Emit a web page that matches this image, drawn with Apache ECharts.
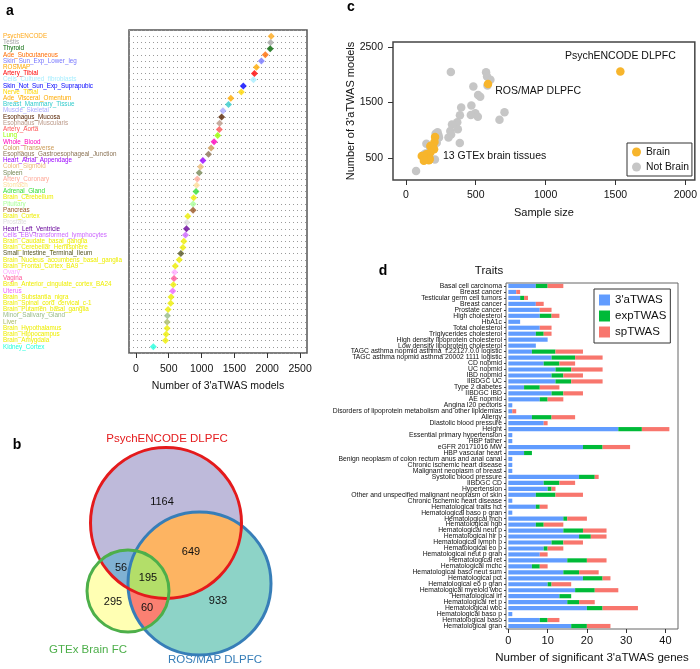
<!DOCTYPE html>
<html><head><meta charset="utf-8">
<script src="https://cdn.jsdelivr.net/npm/echarts@6/dist/echarts.min.js"></script>
<style>html,body{margin:0;padding:0;background:#fff}#c{width:700px;height:669px}</style>
</head><body><div id="c"></div>
<script>
// ---------- Panel a data ----------
const tissues = ["PsychENCODE","Testis","Thyroid","Ade_Subcutaneous","Skin_Sun_Exp_Lower_leg","ROSMAP","Artery_Tibial","Cells_Cultured_fibroblasts","Skin_Not_Sun_Exp_Suprapubic","Nerve_Tibial","Ade_Visceral_Omentum","Breast_Mammary_Tissue","Muscle_Skeletal","Esophagus_Mucosa","Esophagus_Muscularis","Artery_Aorta","Lung","Whole_Blood","Colon_Transverse","Esophagus_Gastroesophageal_Junction","Heart_Atrial_Appendage","Colon_Sigmoid","Spleen","Artery_Coronary","Stomach","Adrenal_Gland","Brain_Cerebellum","Pituitary","Pancreas","Brain_Cortex","Prostate","Heart_Left_Ventricle","Cells_EBV-transformed_lymphocytes","Brain_Caudate_basal_ganglia","Brain_Cerebellar_Hemisphere","Small_Intestine_Terminal_Ileum","Brain_Nucleus_accumbens_basal_ganglia","Brain_Frontal_Cortex_BA9","Ovary","Vagina","Brain_Anterior_cingulate_cortex_BA24","Uterus","Brain_Substantia_nigra","Brain_Spinal_cord_cervical_c-1","Brain_Putamen_basal_ganglia","Minor_Salivary_Gland","Liver","Brain_Hypothalamus","Brain_Hippocampus","Brain_Amygdala","Kidney_Cortex"];
const tissueModels = [2060,2050,2045,1970,1910,1835,1805,1790,1635,1605,1445,1410,1325,1305,1275,1270,1245,1190,1145,1105,1020,985,965,935,925,915,880,870,870,790,775,770,755,730,715,685,660,600,590,580,570,560,535,530,490,480,475,475,460,450,265];
const tissueColors = ["#FFA91A","#A6A6A6","#006400","#FF6A00","#7777FF","#FFAA00","#FF0000","#A8EEFF","#0000FF","#FFD700","#FFAA00","#33CCCC","#AAAAFF","#552200","#BB9988","#FF5555","#99FF00","#FF00BB","#CC9955","#8B7355","#9900FF","#EEBB77","#778855","#FFAA99","#FFDD99","#33DD33","#EEEE00","#AAFF99","#995522","#EEEE00","#DDDDDD","#660099","#CC66FF","#EEEE00","#EEEE00","#555522","#EEEE00","#EEEE00","#FFAAFF","#FF5599","#EEEE00","#EE66FF","#EEEE00","#EEEE00","#EEEE00","#99BB88","#AABB66","#EEEE00","#EEEE00","#EEEE00","#22FFDD"];
const aTicks = [0,500,1000,1500,2000,2500];

// ---------- Panel b data ----------
const vennSets = ["PsychENCODE DLPFC","ROS/MAP DLPFC","GTEx Brain FC"];
const vennRegions = ["A","AB","B","AC","ABC","C","BC"];
const vennCounts = [1164,649,933,56,195,295,60];

// ---------- Panel c data ----------
const brainSampleSize = [1535,588,209,205,194,175,202,175,147,114,126,170,170,165,129];
const brainModels = [2060,1835,880,790,730,715,660,600,570,535,530,490,475,460,450];
const otherSampleSize = [322,574,581,605,584,483,517,532,469,396,706,497,465,387,515,670,368,330,372,318,227,213,324,233,237,305,221,386,147,174,167,141,129,144,208,73];
const otherModels = [2050,2045,1970,1910,1805,1790,1635,1605,1445,1410,1325,1305,1275,1270,1245,1190,1145,1105,1020,985,965,935,925,915,870,870,775,770,755,685,590,580,560,480,475,265];
const cXTicks = [0,500,1000,1500,2000];
const cYTicks = [500,1500,2500];

// ---------- Panel d data ----------
const traits = ["Basal cell carcinoma","Breast cancer","Testicular germ cell tumors","Breast cancer","Prostate cancer","High cholesterol","HbA1c","Total cholesterol","Triglycerides cholesterol","High density lipoprotein cholesterol","Low density lipoprotein cholesterol","TAGC asthma nopmid asthma_f.22127.0.0 logistic","TAGC asthma nopmid asthma 20002 1111 logistic","CD nopmid","UC nopmid","IBD nopmid","IIBDGC UC","Type 2 diabetes","IIBDGC IBD","AE nopmid","Angina I20 pectoris","Disorders of lipoprotein metabolism and other lipidemias","Allergy","Diastolic blood pressure","Height","Essential primary hypertension","HBP father","eGFR 20171016 MW","HBP vascular heart","Benign neoplasm of colon rectum anus and anal canal","Chronic ischemic heart disease","Malignant neoplasm of breast","Systolic blood pressure","IIBDGC CD","Hypertension","Other and unspecified malignant neoplasm of skin","Chronic ischemic heart disease","Hematological traits hct","Hematological baso p gran","Hematological mch","Hematological hgb","Hematological neut p","Hematological hlr p","Hematological lymph p","Hematological eo p","Hematological neut p gran","Hematological ret","Hematological mchc","Hematological baso neut sum","Hematological pct","Hematological eo p gran","Hematological myeloid wbc","Hematological irf","Hematological ret p","Hematological wbc","Hematological baso p","Hematological baso","Hematological gran"];
const aTWAS   = [7,2,3,7,8,8,3,8,7,10,7,6,11,9,12,11,12,4,11,8,1,1,6,9,28,1,1,19,4,1,1,1,18,9,10,7,1,7,1,14,7,14,18,11,9,8,15,6,14,19,10,17,13,15,20,1,8,16];
const expTWAS = [3,0,1,0,0,3,0,0,2,0,0,6,6,4,4,3,4,4,3,2,0,0,5,0,6,0,0,5,2,0,0,0,4,4,1,5,0,1,0,1,2,5,3,3,1,0,5,2,4,5,1,5,3,3,4,0,2,4];
const spTWAS  = [4,1,1,2,3,2,0,3,2,0,0,7,7,4,8,5,8,5,5,4,0,1,6,1,7,0,0,7,0,0,0,0,1,4,1,7,0,2,0,5,5,6,4,5,4,2,5,2,5,2,5,6,0,4,9,0,3,6];
const dTicks = [0,10,20,30,40];

// ---------- layout / style ----------
const FF = "'Liberation Sans', Arial, Helvetica, sans-serif";
const vennGeom = {
  A: {cx:166, cy:523, r:75.5, stroke:'#E41A1C'},
  B: {cx:199.5, cy:583.5, r:71.5, stroke:'#377EB8'},
  C: {cx:128, cy:591, r:41, stroke:'#4DAF4A'}
};
const vennFill = {A:'#BEBADA', B:'#8DD3C7', AB:'#FDB462', C:'#FFFFB3', AC:'#80B1D3', BC:'#FB8072', ABC:'#B3DE69'};
const vennLabelPos = {A:[162,502], AB:[191,552], B:[218,601], AC:[121,568], ABC:[148,578], C:[113,602], BC:[147,608]};
const vennSetLabelPos = [[167,439,'#E41A1C'],[215,660,'#377EB8'],[88,650,'#4DAF4A']];

function circlePts(c, n) {
  const pts = [];
  for (let k = 0; k < n; k++) { const t = 2*Math.PI*k/n; pts.push([c.cx + c.r*Math.cos(t), c.cy + c.r*Math.sin(t)]); }
  return pts;
}
function clipByCircle(poly, c) {
  const cp = circlePts(c, 240);
  let out = poly;
  for (let i = 0; i < cp.length; i++) {
    if (!out.length) break;
    const a = cp[i], b = cp[(i+1)%cp.length];
    const side = p => (b[0]-a[0])*(p[1]-a[1]) - (b[1]-a[1])*(p[0]-a[0]);
    const ref = side([c.cx, c.cy]);
    const inp = out; out = [];
    for (let j = 0; j < inp.length; j++) {
      const P = inp[j], Q = inp[(j+1)%inp.length];
      const sp = side(P)*ref, sq = side(Q)*ref;
      if (sp >= 0) out.push(P);
      if ((sp >= 0) !== (sq >= 0)) { const t = sp/(sp-sq); out.push([P[0]+t*(Q[0]-P[0]), P[1]+t*(Q[1]-P[1])]); }
    }
  }
  return out;
}
const G = vennGeom;
const regionPolys = [
  ['A', circlePts(G.A, 240)],
  ['B', circlePts(G.B, 240)],
  ['AB', clipByCircle(circlePts(G.A, 240), G.B)],
  ['C', circlePts(G.C, 240)],
  ['AC', clipByCircle(circlePts(G.C, 240), G.A)],
  ['BC', clipByCircle(circlePts(G.C, 240), G.B)],
  ['ABC', clipByCircle(clipByCircle(circlePts(G.C, 240), G.A), G.B)]
];
const graphics = [];
let zz = 10;
const txt = (text, x, y, font, fill, align) => ({type:'text', z: zz++, silent:true, x, y,
  style:{text, fill, font, textAlign: align || 'center', textVerticalAlign:'middle', align: align || 'center', verticalAlign:'middle'}});
regionPolys.forEach(([k, pts]) => graphics.push({type:'polygon', z: zz++, silent:true, shape:{points: pts}, style:{fill: vennFill[k], stroke:'none'}}));
['B','A','C'].forEach(k => graphics.push({type:'circle', z: zz++, silent:true, shape:{cx:G[k].cx, cy:G[k].cy, r:G[k].r}, style:{fill:'none', stroke:G[k].stroke, lineWidth:3}}));
vennRegions.forEach((k, i) => graphics.push(txt(String(vennCounts[i]), vennLabelPos[k][0], vennLabelPos[k][1], '11px ' + FF, '#111')));
vennSets.forEach((s, i) => graphics.push(txt(s, vennSetLabelPos[i][0], vennSetLabelPos[i][1], '11.5px ' + FF, vennSetLabelPos[i][2])));
[['a',10,11],['b',17,445],['c',351,7],['d',383,271]].forEach(([t,x,y]) => graphics.push(txt(t, x, y, 'bold 14px ' + FF, '#000')));
graphics.push(txt('Traits', 489, 271, '11.5px ' + FF, '#111'));
graphics.push(txt('13 GTEx brain tissues', 443, 156, '10.5px ' + FF, '#111', 'left'));

const rich = {};
tissueColors.forEach((c, i) => { rich['c' + i] = {color: c, fontSize: 6.3, fontFamily: FF}; });

const tickStyle = {lineStyle:{color:'#333', width:1}};
const labelStyle = {color:'#111', fontSize:10.5, fontFamily:FF, formatter: v => String(v)};
const noLine = {show:false, onZero:false};

const option = {
  animation: false,
  backgroundColor: '#fff',
  textStyle: {fontFamily: FF},
  graphic: graphics,
  grid: [
    {left:127, top:30, width:180, height:323, show:true, borderColor:'#555', borderWidth:1.5, backgroundColor:'transparent'},
    {left:393, top:42, width:304, height:138, show:true, borderColor:'#444', borderWidth:1.5, backgroundColor:'transparent'},
    {left:506, top:283, width:172, height:351, show:true, borderColor:'#666', borderWidth:1, backgroundColor:'transparent'}
  ],
  xAxis: [
    {gridIndex:0, type:'value', min:-105, max:2605, axisLine:noLine, splitLine:{show:false},
     axisTick:{show:true, customValues:aTicks, length:5, ...tickStyle},
     axisLabel:{customValues:aTicks, margin:11, ...labelStyle},
     name:"Number of 3'aTWAS models", nameLocation:'middle', nameGap:28, nameMoveOverlap:false, nameTextStyle:{fontSize:10.5, color:'#111', fontFamily:FF}},
    {gridIndex:1, type:'value', min:-92, max:2068, axisLine:noLine, splitLine:{show:false},
     axisTick:{show:true, customValues:cXTicks, length:5, ...tickStyle},
     axisLabel:{customValues:cXTicks, margin:10, ...labelStyle},
     name:'Sample size', nameLocation:'middle', nameGap:27, nameMoveOverlap:false, nameTextStyle:{fontSize:11, color:'#111', fontFamily:FF}},
    {gridIndex:2, type:'value', min:-0.6, max:43.2, axisLine:noLine, splitLine:{show:false},
     axisTick:{show:true, customValues:dTicks, length:4, ...tickStyle},
     axisLabel:{customValues:dTicks, margin:6, color:'#111', fontSize:11, fontFamily:FF},
     name:"Number of significant 3'aTWAS genes", nameLocation:'middle', nameGap:23, nameMoveOverlap:false, nameTextStyle:{fontSize:11.5, color:'#111', fontFamily:FF}}
  ],
  yAxis: [
    {gridIndex:0, type:'value', inverse:true, min:-1, max:51, interval:1, axisLine:noLine, axisTick:{show:false},
     splitLine:{show:true, lineStyle:{type:[1,3], color:'#9a9a9a', width:1}},
     axisLabel:{align:'left', margin:126, showMinLabel:true, showMaxLabel:true,
       formatter: v => (Number.isInteger(v) && v >= 0 && v < tissues.length) ? '{c' + v + '|' + tissues[v] + '}' : '',
       rich: rich}},
    {gridIndex:1, type:'value', min:104, max:2590, axisLine:noLine, splitLine:{show:false},
     axisTick:{show:true, customValues:cYTicks, length:5, ...tickStyle},
     axisLabel:{customValues:cYTicks, margin:10, ...labelStyle},
     name:"Number of 3'aTWAS models", nameLocation:'middle', nameGap:37, nameMoveOverlap:false, nameTextStyle:{fontSize:11, color:'#111', fontFamily:FF}},
    {gridIndex:2, type:'category', inverse:true, data:traits, axisLine:noLine,
     axisTick:{show:true, length:2, alignWithLabel:true, lineStyle:{color:'#444'}},
     axisLabel:{interval:0, fontSize:6.8, color:'#111', margin:4, fontFamily:FF}}
  ],
  legend: [
    {data:['Brain','Not Brain'], orient:'vertical', left:627, top:143, itemWidth:9, itemHeight:9, itemGap:3, icon:'circle',
     padding:[3,3,3,5], borderColor:'#333', borderWidth:1, selectedMode:false, textStyle:{fontSize:10.3, lineHeight:12, color:'#111', fontFamily:FF}},
    {data:["3'aTWAS",'expTWAS','spTWAS'], orient:'vertical', left:594, top:289, itemWidth:11, itemHeight:11, itemGap:4, icon:'rect',
     padding:[5,4,5,5], borderColor:'#333', borderWidth:1, selectedMode:false, textStyle:{fontSize:11.5, lineHeight:12, color:'#111', fontFamily:FF}}
  ],
  series: [
    {type:'scatter', xAxisIndex:0, yAxisIndex:0, symbol:'diamond', symbolSize:7, silent:true,
     data: tissueModels.map((v, i) => ({value:[v, i], itemStyle:{color: tissueColors[i]}}))},
    {name:'Not Brain', type:'scatter', xAxisIndex:1, yAxisIndex:1, symbolSize:8.5, itemStyle:{color:'#C6C6C6', opacity:1},
     data: otherSampleSize.map((s, i) => [s, otherModels[i]])},
    {name:'Brain', type:'scatter', xAxisIndex:1, yAxisIndex:1, symbolSize:8.5, itemStyle:{color:'#F7B52C', opacity:1},
     data: brainSampleSize.map((s, i) => {
       const d = {value:[s, brainModels[i]]};
       if (i === 0) d.label = {show:true, formatter:'PsychENCODE DLPFC', position:'top', distance:6, color:'#111', fontSize:10.5, fontFamily:FF};
       if (i === 1) d.label = {show:true, formatter:'ROS/MAP DLPFC', position:'right', distance:3, offset:[0,7], color:'#111', fontSize:10.5, fontFamily:FF};
       return d;
     })},
    {name:"3'aTWAS", type:'bar', stack:'d', xAxisIndex:2, yAxisIndex:2, barCategoryGap:'30%', itemStyle:{color:'#619CFF'}, data:aTWAS},
    {name:'expTWAS', type:'bar', stack:'d', xAxisIndex:2, yAxisIndex:2, barCategoryGap:'30%', itemStyle:{color:'#00BA38'}, data:expTWAS},
    {name:'spTWAS', type:'bar', stack:'d', xAxisIndex:2, yAxisIndex:2, barCategoryGap:'30%', itemStyle:{color:'#F8766D'}, data:spTWAS}
  ]
};
const chart = echarts.init(document.getElementById('c'), null, {renderer:'canvas'});
chart.setOption(option);
</script>
</body></html>
